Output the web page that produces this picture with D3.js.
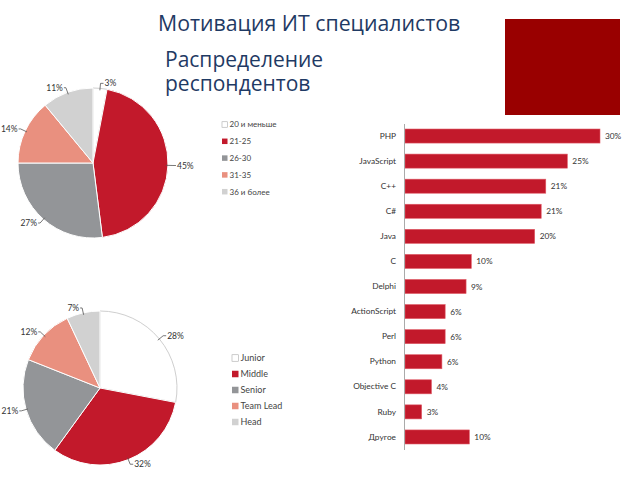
<!DOCTYPE html>
<html>
<head>
<meta charset="utf-8">
<script src="https://cdn.jsdelivr.net/npm/d3@7"></script>
<style>
  body { margin: 0; background: #fff; }
  svg { display: block; }
</style>
</head>
<body>
<main></main>
<script>
const ageLabels = ['20 и меньше', '21-25', '26-30', '31-35', '36 и более'];
const ageValues = [3, 45, 27, 14, 11];

const levelLabels = ['Junior', 'Middle', 'Senior', 'Team Lead', 'Head'];
const levelValues = [28, 32, 21, 12, 7];

const languages = ['PHP', 'JavaScript', 'C++', 'C#', 'Java', 'C', 'Delphi',
    'ActionScript', 'Perl', 'Python', 'Objective C', 'Ruby', 'Другое'];
const langValues = [30, 25, 21.7, 21, 20, 10.3, 9.5, 6.3, 6.3, 5.8, 4.2, 2.7, 10];
const langLabels = ['30%', '25%', '21%', '21%', '20%', '10%', '9%',
    '6%', '6%', '6%', '4%', '3%', '10%'];

const sliceColors = ['#ffffff', '#c2192b', '#939598', '#e9907f', '#d1d1d1'];
const chartFont = 'Lato, "Open Sans", sans-serif';

const svg = d3.select('main')
    .append('svg')
    .attr('width', 640)
    .attr('height', 480);

// titles
svg.append('text')
    .attr('x', 158).attr('y', 31)
    .attr('font-family', '"Open Sans", sans-serif')
    .attr('font-size', 21.3)
    .attr('fill', '#1f3a64')
    .text('Мотивация ИТ специалистов');

svg.selectAll('.subtitle')
    .data(['Распределение', 'респондентов'])
    .enter()
    .append('text')
    .attr('class', 'subtitle')
    .attr('x', 165)
    .attr('y', (d, i) => 67 + i * 24)
    .attr('font-family', '"Open Sans", sans-serif')
    .attr('font-size', 21)
    .attr('fill', '#1f3a64')
    .text((d) => d);

svg.append('rect')
    .attr('x', 505).attr('y', 19)
    .attr('width', 115).attr('height', 96)
    .attr('fill', '#990000');

// pies
const drawPie = (values, cx, cy, r) => {
    const g = svg.append('g').attr('transform', `translate(${cx}, ${cy})`);
    const pie = d3.pie().sort(null).value((d) => d);
    const arcs = pie(values);
    const arc = d3.arc().innerRadius(0).outerRadius(r);

    g.selectAll('path')
        .data(arcs)
        .enter()
        .append('path')
        .attr('d', arc)
        .attr('fill', (d, i) => sliceColors[i])
        .attr('stroke', (d, i) => i === 0 ? '#cfcfcf' : '#ffffff')
        .attr('stroke-width', 1);

    arcs.forEach((d) => {
        const a = (d.startAngle + d.endAngle) / 2;
        const sx = Math.sin(a), sy = -Math.cos(a);
        const right = sx >= 0;
        const p0 = [sx * (r - 2), sy * (r - 2)];
        const p1 = [sx * (r + 5), sy * (r + 5)];
        const p2 = [p1[0] + (right ? 3 : -2), p1[1]];
        g.append('polyline')
            .attr('points', [p0, p1, p2].map((p) => p.join(',')).join(' '))
            .attr('fill', 'none')
            .attr('stroke', '#555')
            .attr('stroke-width', 0.8);
        g.append('text')
            .attr('x', p2[0] + (right ? 1 : -1))
            .attr('y', p2[1] + 3)
            .attr('text-anchor', right ? 'start' : 'end')
            .attr('font-family', chartFont)
            .attr('font-size', 8.5)
            .attr('fill', '#333')
            .text(`${d.data}%`);
    });
};

const drawLegend = (labels, x, y0, step, size, fontSize) => {
    const g = svg.append('g');
    const rows = g.selectAll('g')
        .data(labels)
        .enter()
        .append('g')
        .attr('transform', (d, i) => `translate(${x}, ${y0 + i * step})`);
    rows.append('rect')
        .attr('x', 0).attr('y', -size / 2)
        .attr('width', size).attr('height', size)
        .attr('fill', (d, i) => sliceColors[i])
        .attr('stroke', (d, i) => i === 0 ? '#aaa' : 'none')
        .attr('stroke-width', 0.6);
    rows.append('text')
        .attr('x', size + 2)
        .attr('y', fontSize * 0.35)
        .attr('font-family', chartFont)
        .attr('font-size', fontSize)
        .attr('fill', '#444')
        .text((d) => d);
};

drawPie(ageValues, 93, 163, 75);
drawLegend(ageLabels, 222, 124.5, 16.8, 5.5, 8);

drawPie(levelValues, 100, 388, 77);
drawLegend(levelLabels, 232, 358, 16, 6.5, 9);

// bars
const xScale = d3.scaleLinear()
    .domain([0, 30])
    .range([404, 600]);

const yScale = d3.scaleBand()
    .domain(languages)
    .range([123.5, 449.5])
    .paddingInner(0.44)
    .paddingOuter(0.22);

svg.append('g')
    .selectAll('rect')
    .data(languages)
    .enter()
    .append('rect')
    .attr('x', xScale(0) + 1)
    .attr('y', (d) => yScale(d))
    .attr('width', (d, i) => xScale(langValues[i]) - xScale(0) - 1)
    .attr('height', yScale.bandwidth())
    .attr('fill', '#c2192b')
    .attr('stroke', '#e05a66')
    .attr('stroke-width', 0.6);

svg.append('g')
    .attr('transform', `translate(${xScale(0)}, 0)`)
    .call(d3.axisLeft(yScale).tickSize(0).tickPadding(8))
    .call((g) => g.select('.domain').attr('stroke', '#aaa'))
    .call((g) => g.selectAll('text')
        .attr('font-family', chartFont)
        .attr('font-size', 8.3)
        .attr('fill', '#333'));

svg.append('g')
    .selectAll('text')
    .data(languages)
    .enter()
    .append('text')
    .attr('x', (d, i) => xScale(langValues[i]) + 5)
    .attr('y', (d) => yScale(d) + yScale.bandwidth() / 2 + 3)
    .attr('font-family', chartFont)
    .attr('font-size', 8.3)
    .attr('fill', '#333')
    .text((d, i) => langLabels[i]);
</script>
</body>
</html>
